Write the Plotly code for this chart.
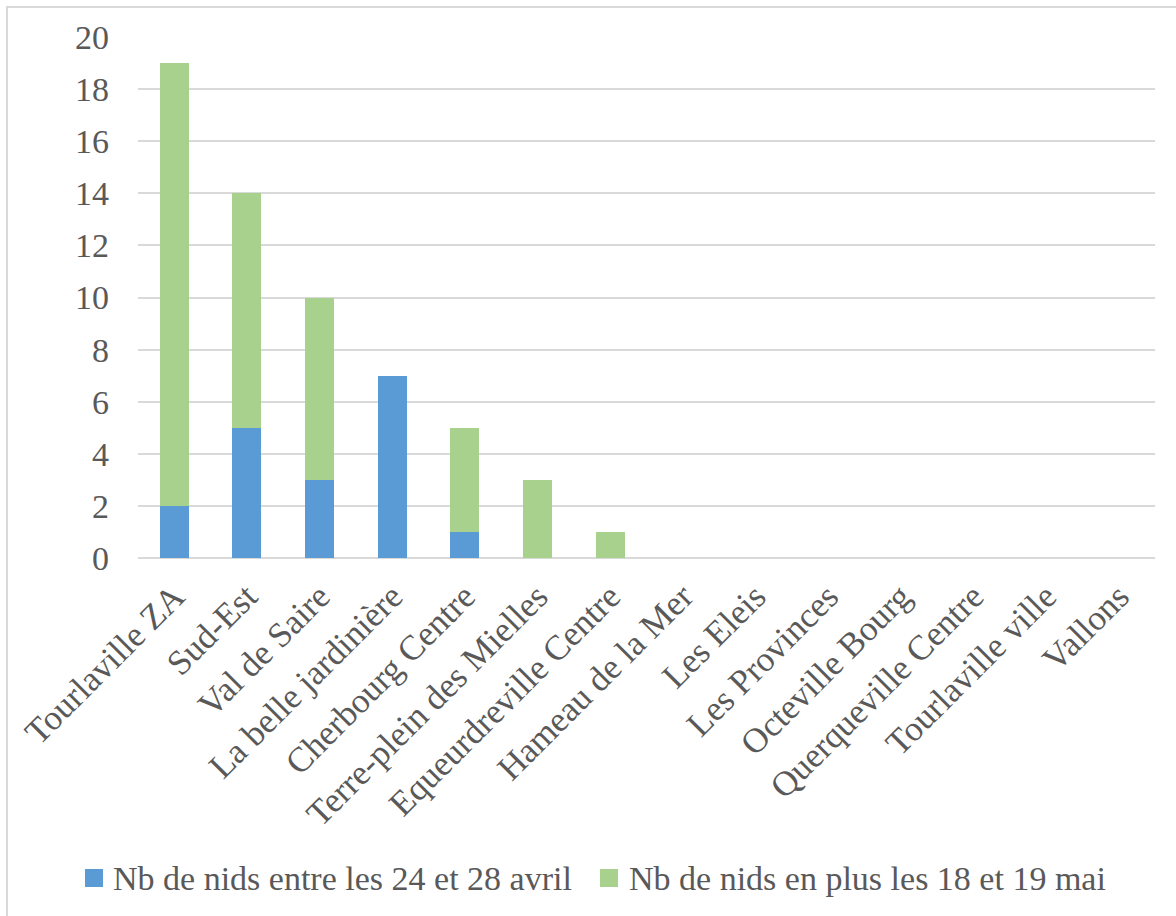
import plotly.graph_objects as go

categories = ["Tourlaville ZA", "Sud-Est", "Val de Saire", "La belle jardinière",
              "Cherbourg Centre", "Terre-plein des Mielles", "Equeurdreville Centre",
              "Hameau de la Mer", "Les Eleis", "Les Provinces", "Octeville Bourg",
              "Querqueville Centre", "Tourlaville ville", "Vallons"]
avril = [2, 5, 3, 7, 1, 0, 0, 0, 0, 0, 0, 0, 0, 0]
mai = [17, 9, 7, 0, 4, 3, 1, 0, 0, 0, 0, 0, 0, 0]
series_names = ["Nb de nids entre les 24 et 28 avril", "Nb de nids en plus les 18 et 19 mai"]
series_colors = ["#5B9BD5", "#A9D18E"]
y_ticks = [0, 2, 4, 6, 8, 10, 12, 14, 16, 18, 20]

FONT = "Liberation Serif"
GRAY = "#595959"
W, H = 1176, 916
L, R, T, B = 138, 21, 37, 358
pw, ph = W - L - R, H - T - B

fig = go.Figure()
fig.add_trace(go.Bar(x=categories, y=avril, name=series_names[0], marker_color=series_colors[0],
                     marker_line_width=0))
fig.add_trace(go.Bar(x=categories, y=mai, name=series_names[1], marker_color=series_colors[1],
                     marker_line_width=0))

def px_x(p):
    return (p - L) / pw

def px_y(p):
    return (H - B - p) / ph

# outer chart border
fig.add_shape(type="rect", xref="paper", yref="paper",
              x0=px_x(7), x1=px_x(1190), y0=px_y(930), y1=px_y(7),
              line=dict(color="#D9D9D9", width=2), fillcolor="rgba(0,0,0,0)", layer="below")

# legend (drawn manually to keep it on one line)
leg_y = 878
for sq_x, txt_x, name, col in [(85, 111, series_names[0], series_colors[0]),
                                (600, 627, series_names[1], series_colors[1])]:
    fig.add_shape(type="rect", xref="paper", yref="paper",
                  x0=px_x(sq_x), x1=px_x(sq_x + 18), y0=px_y(leg_y + 9), y1=px_y(leg_y - 9),
                  line=dict(width=0), fillcolor=col)
    fig.add_annotation(text=name, xref="paper", yref="paper", x=px_x(txt_x), y=px_y(leg_y),
                       xanchor="left", yanchor="middle", showarrow=False,
                       font=dict(family=FONT, size=34, color=GRAY))

fig.update_layout(
    width=W, height=H,
    barmode="stack", bargap=0.6,
    plot_bgcolor="white", paper_bgcolor="white",
    margin=dict(l=L, r=R, t=T, b=B, autoexpand=False),
    font=dict(family=FONT, size=34, color=GRAY),
    showlegend=False,
    xaxis=dict(tickangle=-45, showgrid=False, showline=False, ticks="",
               ticklabelstandoff=10,
               tickfont=dict(family=FONT, size=35, color=GRAY)),
    yaxis=dict(range=[0, 20], tickvals=y_ticks, showgrid=True, gridcolor="#D9D9D9",
               gridwidth=2, zeroline=True, zerolinecolor="#D9D9D9", zerolinewidth=2,
               showline=False, ticks="", ticklabelstandoff=28,
               tickfont=dict(family=FONT, size=34, color=GRAY)),
)

fig.write_html("out.html")
